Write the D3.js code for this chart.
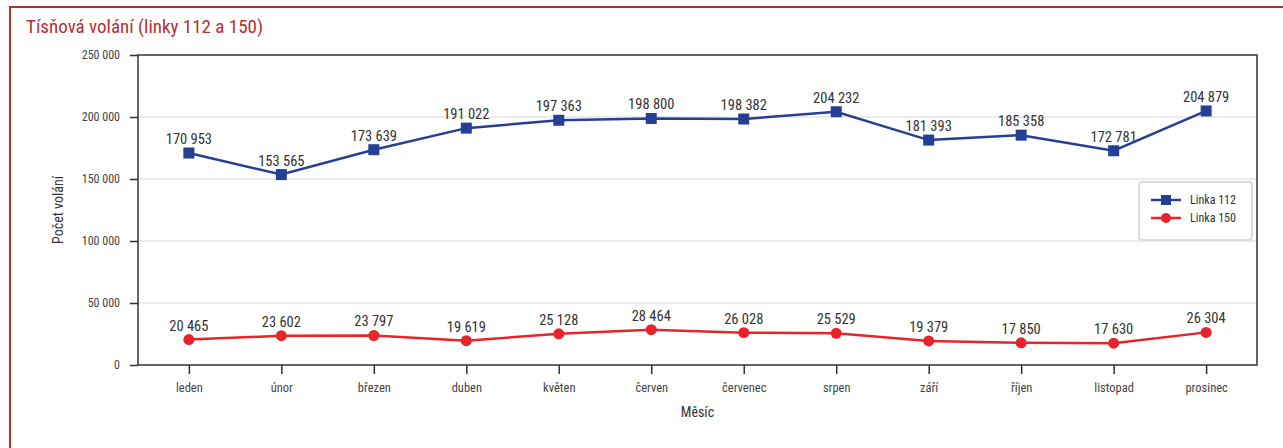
<!DOCTYPE html>
<html><head><meta charset="utf-8">
<script src="https://cdn.jsdelivr.net/npm/d3@7"></script>
<style>
body{margin:0;background:#fff;}
svg text{font-family:"Liberation Sans Narrow","Roboto Condensed","Roboto",sans-serif;}
</style></head>
<body><svg id="c" width="1283" height="448"></svg>
<script>
const months=["leden","únor","březen","duben","květen","červen","červenec","srpen","září","říjen","listopad","prosinec"];
const linka112=[170953,153565,173639,191022,197363,198800,198382,204232,181393,185358,172781,204879];
const linka150=[20465,23602,23797,19619,25128,28464,26028,25529,19379,17850,17630,26304];
const yTicks=[0,50000,100000,150000,200000,250000];
const seriesNames=["Linka 112","Linka 150"];

const svg=d3.select("#c");
const m={l:138,r:1257,t:55,b:365};
const x=d3.scalePoint().domain(months).range([m.l,m.r]).padding(0.55);
const y=d3.scaleLinear().domain([0,250000]).range([m.b,m.t]);
const fmt=v=>d3.format(",")(v).replace(/,/g," ");

// outer frame
svg.append("rect").attr("x",10).attr("y",7).attr("width",1290).attr("height",460)
  .attr("fill","none").attr("stroke","#b5302f").attr("stroke-width",2);
svg.append("text").attr("x",26).attr("y",33).attr("fill","#b5302f")
  .style("font-size","19px").text("Tísňová volání (linky 112 a 150)");

// grid
svg.append("g").selectAll("line").data(yTicks.filter(d=>d>0&&d<250000)).join("line")
  .attr("x1",m.l).attr("x2",m.r).attr("y1",d=>y(d)).attr("y2",d=>y(d))
  .attr("stroke","#d9d9d9").attr("stroke-width",1);

// plot box
svg.append("rect").attr("x",m.l).attr("y",m.t).attr("width",m.r-m.l).attr("height",m.b-m.t)
  .attr("fill","none").attr("stroke","#333").attr("stroke-width",1.5);

// y axis
const ya=svg.append("g").attr("transform",`translate(${m.l},0)`)
  .call(d3.axisLeft(y).tickValues(yTicks).tickFormat(fmt).tickSize(8).tickPadding(10));
ya.select(".domain").remove();
ya.selectAll("line").attr("stroke","#333").attr("stroke-width",1.5);
ya.selectAll("text").attr("fill","#444").style("font-size","12px");

// x axis
const xa=svg.append("g").attr("transform",`translate(0,${m.b})`)
  .call(d3.axisBottom(x).tickSize(9).tickPadding(9));
xa.select(".domain").remove();
xa.selectAll("line").attr("stroke","#333").attr("stroke-width",1.5);
xa.selectAll("text").attr("fill","#444").style("font-size","12.5px");

svg.append("text").attr("x",(m.l+m.r)/2).attr("y",417).attr("text-anchor","middle")
  .attr("fill","#333").style("font-size","14px").text("Měsíc");
svg.append("text").attr("transform",`translate(63,${(m.t+m.b)/2}) rotate(-90)`)
  .attr("text-anchor","middle").attr("fill","#333").style("font-size","14px").text("Počet volání");

const line=d3.line().x((d,i)=>x(months[i])).y(d=>y(d));
const series=[{vals:linka112,color:"#253f94",shape:"sq"},{vals:linka150,color:"#e8232a",shape:"ci"}];
series.forEach(s=>{
  svg.append("path").datum(s.vals).attr("d",line).attr("fill","none")
    .attr("stroke",s.color).attr("stroke-width",2.5);
  const g=svg.append("g");
  if(s.shape==="sq"){
    g.selectAll("rect").data(s.vals).join("rect")
      .attr("x",(d,i)=>x(months[i])-5.5).attr("y",d=>y(d)-5.5).attr("width",11).attr("height",11)
      .attr("fill",s.color);
  } else {
    g.selectAll("circle").data(s.vals).join("circle")
      .attr("cx",(d,i)=>x(months[i])).attr("cy",d=>y(d)).attr("r",5.5).attr("fill",s.color);
  }
  svg.append("g").selectAll("text").data(s.vals).join("text")
    .attr("x",(d,i)=>x(months[i])).attr("y",d=>y(d)-9).attr("text-anchor","middle")
    .attr("fill","#333").style("font-size","14.5px").text(fmt);
});

// legend
const lg=svg.append("g");
lg.append("rect").attr("x",1139).attr("y",182).attr("width",113).attr("height",58).attr("rx",3)
  .attr("fill","#fff").attr("stroke","#dcdcdc").attr("stroke-width",2);
series.forEach((s,i)=>{
  const yy=200+i*18;
  lg.append("line").attr("x1",1151).attr("x2",1181).attr("y1",yy).attr("y2",yy)
    .attr("stroke",s.color).attr("stroke-width",2.5);
  if(s.shape==="sq") lg.append("rect").attr("x",1161).attr("y",yy-5).attr("width",10).attr("height",10).attr("fill",s.color);
  else lg.append("circle").attr("cx",1166).attr("cy",yy).attr("r",5).attr("fill",s.color);
  lg.append("text").attr("x",1190).attr("y",yy+4).attr("fill","#333").style("font-size","12px").text(seriesNames[i]);
});
</script></body></html>
